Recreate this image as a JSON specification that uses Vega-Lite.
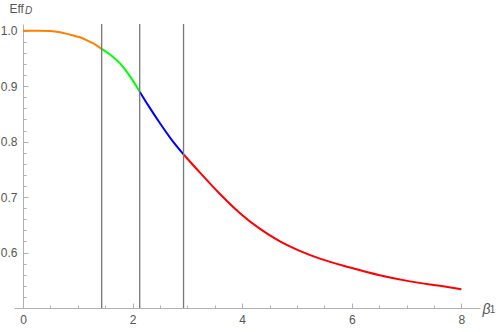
{
  "$schema": "https://vega.github.io/schema/vega-lite/v6.json",
  "width": 466,
  "height": 284,
  "autosize": {"type": "none"},
  "padding": {"left": 14, "top": 24, "right": 20, "bottom": 24},
  "background": "white",
  "config": {
    "view": {"stroke": null},
    "axis": {
      "grid": false,
      "domainColor": "#b0b0b0",
      "tickColor": "#b0b0b0",
      "labelColor": "#555555",
      "labelFont": "Liberation Sans",
      "labelFontSize": 12,
      "titleFont": "Liberation Sans",
      "titleColor": "#555555",
      "titleFontWeight": "normal"
    }
  },
  "resolve": {"axis": {"x": "independent", "y": "independent"}},
  "layer": [
    {
      "data": {
        "values": [
          {"beta": 0, "eff": 1.0, "seg": "a"},
          {"beta": 0.25, "eff": 1.0, "seg": "a"},
          {"beta": 0.5, "eff": 0.9993, "seg": "a"},
          {"beta": 0.675, "eff": 0.997, "seg": "a"},
          {"beta": 0.85, "eff": 0.993, "seg": "a"},
          {"beta": 1.04, "eff": 0.988, "seg": "a"},
          {"beta": 1.2, "eff": 0.981, "seg": "a"},
          {"beta": 1.3, "eff": 0.976, "seg": "a"},
          {"beta": 1.436, "eff": 0.967, "seg": "a"},
          {"beta": 1.436, "eff": 0.967, "seg": "b"},
          {"beta": 1.6, "eff": 0.956, "seg": "b"},
          {"beta": 1.77, "eff": 0.941, "seg": "b"},
          {"beta": 1.95, "eff": 0.918, "seg": "b"},
          {"beta": 2.13, "eff": 0.89, "seg": "b"},
          {"beta": 2.13, "eff": 0.89, "seg": "c"},
          {"beta": 2.3, "eff": 0.863, "seg": "c"},
          {"beta": 2.5, "eff": 0.833, "seg": "c"},
          {"beta": 2.7, "eff": 0.805, "seg": "c"},
          {"beta": 2.93, "eff": 0.777, "seg": "c"},
          {"beta": 2.93, "eff": 0.777, "seg": "d"},
          {"beta": 3.23, "eff": 0.744, "seg": "d"},
          {"beta": 3.59, "eff": 0.706, "seg": "d"},
          {"beta": 3.96, "eff": 0.671, "seg": "d"},
          {"beta": 4.32, "eff": 0.643, "seg": "d"},
          {"beta": 4.69, "eff": 0.62, "seg": "d"},
          {"beta": 5.05, "eff": 0.603, "seg": "d"},
          {"beta": 5.42, "eff": 0.589, "seg": "d"},
          {"beta": 5.97, "eff": 0.573, "seg": "d"},
          {"beta": 6.51, "eff": 0.559, "seg": "d"},
          {"beta": 7.06, "eff": 0.548, "seg": "d"},
          {"beta": 7.61, "eff": 0.54, "seg": "d"},
          {"beta": 8.0, "eff": 0.534, "seg": "d"}
        ]
      },
      "mark": {"type": "line", "strokeWidth": 2, "interpolate": "monotone"},
      "encoding": {
        "x": {
          "field": "beta",
          "type": "quantitative",
          "scale": {"domain": [-0.164, 8.34], "nice": false, "zero": false},
          "axis": {
            "orient": "bottom",
            "values": [0, 2, 4, 6, 8],
            "tickSize": -5,
            "labelPadding": 11,
            "labelFlush": false,
            "labelOverlap": false,
            "title": "β",
            "titleFontStyle": "italic",
            "titleFontSize": 14,
            "titleAlign": "left",
            "titleBaseline": "alphabetic",
            "titleAngle": 0,
            "titleX": 468,
            "titleY": 5
          }
        },
        "y": {
          "field": "eff",
          "type": "quantitative",
          "scale": {"domain": [0.5, 1.012], "nice": false, "zero": false},
          "axis": {
            "orient": "left",
            "values": [0.6, 0.7, 0.8, 0.9, 1.0],
            "format": ".1f",
            "tickSize": -5,
            "labelPadding": 11,
            "labelFlush": false,
            "labelOverlap": false,
            "offset": -9,
            "title": "Eff",
            "titleFontSize": 12,
            "titleAngle": 0,
            "titleAlign": "left",
            "titleBaseline": "alphabetic",
            "titleX": -14,
            "titleY": -11.5
          }
        },
        "color": {
          "field": "seg",
          "type": "nominal",
          "scale": {"domain": ["a", "b", "c", "d"], "range": ["#ff8000", "#00ff00", "#0000ff", "#ff0000"]},
          "legend": null
        }
      }
    },
    {
      "data": {"values": [{"beta": 1.436}, {"beta": 2.13}, {"beta": 2.93}]},
      "mark": {"type": "rule", "color": "#777777", "strokeWidth": 1.3},
      "encoding": {
        "x": {
          "field": "beta",
          "type": "quantitative",
          "axis": {
            "orient": "bottom",
            "values": [0.5, 1, 1.5, 2.5, 3, 3.5, 4.5, 5, 5.5, 6.5, 7, 7.5],
            "tickSize": -3,
            "labels": false,
            "domain": false,
            "title": null
          }
        }
      }
    },
    {
      "data": {"values": [{"label": "D"}]},
      "mark": {"type": "text", "fontStyle": "italic", "fontSize": 10, "font": "Liberation Sans", "color": "#555555", "align": "left", "baseline": "alphabetic"},
      "encoding": {
        "x": {"datum": 0.036, "axis": null},
        "y": {
          "datum": 1.03,
          "axis": {
            "orient": "left",
            "values": [0.52, 0.54, 0.56, 0.58, 0.62, 0.64, 0.66, 0.68, 0.72, 0.74, 0.76, 0.78, 0.82, 0.84, 0.86, 0.88, 0.92, 0.94, 0.96, 0.98],
            "tickSize": -3,
            "offset": -9,
            "labels": false,
            "domain": false,
            "title": null
          }
        },
        "text": {"field": "label"}
      }
    },
    {
      "data": {"values": [{"label": "1"}]},
      "mark": {"type": "text", "fontSize": 10, "font": "Liberation Sans", "color": "#555555", "align": "left", "baseline": "alphabetic"},
      "encoding": {
        "x": {"datum": 8.52, "axis": null},
        "y": {"datum": 0.4904, "axis": null},
        "text": {"field": "label"}
      }
    }
  ]
}
